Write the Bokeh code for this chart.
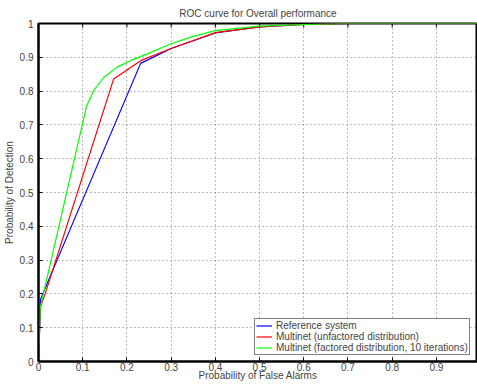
from bokeh.plotting import figure
from bokeh.models import Range1d, FixedTicker, Legend, LegendItem
from bokeh.embed import file_html
from bokeh.resources import INLINE

# ---- data ----
ref_x = [0, 0.005, 0.231, 0.3, 0.4, 0.5, 0.6, 0.7, 0.8, 1.0]
ref_y = [0, 0.186, 0.882, 0.926, 0.972, 0.990, 0.997, 1.0, 1.0, 1.0]

unf_x = [0, 0.004, 0.015, 0.170, 0.231, 0.3, 0.4, 0.5, 0.6, 0.7, 1.0]
unf_y = [0, 0.160, 0.200, 0.836, 0.890, 0.926, 0.973, 0.990, 0.997, 1.0, 1.0]

fac_x = [0, 0.004, 0.109, 0.125, 0.148, 0.178, 0.208, 0.246, 0.3, 0.35, 0.4, 0.5, 0.6, 0.7, 1.0]
fac_y = [0, 0.160, 0.757, 0.802, 0.841, 0.871, 0.890, 0.910, 0.940, 0.962, 0.979, 0.992, 0.997, 1.0, 1.0]

x_ticks = [0, 0.1, 0.2, 0.3, 0.4, 0.5, 0.6, 0.7, 0.8, 0.9]
x_tick_labels = ["0", "0.1", "0.2", "0.3", "0.4", "0.5", "0.6", "0.7", "0.8", "0.9"]
y_ticks = [0, 0.1, 0.2, 0.3, 0.4, 0.5, 0.6, 0.7, 0.8, 0.9, 1.0]
y_tick_labels = ["0", "0.1", "0.2", "0.3", "0.4", "0.5", "0.6", "0.7", "0.8", "0.9", "1"]

series_names = ["Reference system",
                "Multinet (unfactored distribution)",
                "Multinet (factored distribution, 10 iterations)"]
series_colors = ["#0000ff", "#ff0000", "#00ff00"]

FONT = "Liberation Sans"
Y_TOP = 1.0
TOP_TICK_LEN = 0.012

p = figure(width=477, height=385, output_backend="svg", toolbar_location=None,
           x_range=Range1d(0, 0.993), y_range=Range1d(0, Y_TOP),
           min_border_left=38, min_border_right=0, min_border_top=23,
           min_border_bottom=24, x_axis_label="Probability of False Alarms",
           y_axis_label="Probability of Detection",
           title="ROC curve for Overall performance")

p.title.text_font = FONT
p.title.text_font_size = "10px"
p.title.text_font_style = "normal"
p.title.align = "center"
p.title.standoff = 9

p.outline_line_color = "black"
p.outline_line_width = 2
p.background_fill_color = "white"
p.border_fill_color = "white"

for ax in (p.xaxis[0], p.yaxis[0]):
    ax.axis_line_color = "black"
    ax.axis_line_width = 2
    ax.major_tick_in = 4
    ax.major_tick_out = 0
    ax.major_tick_line_color = "black"
    ax.minor_tick_line_color = None
    ax.major_label_text_font = FONT
    ax.major_label_text_font_size = "10px"
    ax.axis_label_text_font = FONT
    ax.axis_label_text_font_size = "10px"
    ax.axis_label_text_font_style = "normal"

p.xaxis[0].ticker = FixedTicker(ticks=x_ticks)
p.xaxis[0].major_label_overrides = dict(zip(x_ticks, x_tick_labels))
p.xaxis[0].major_label_standoff = 1
p.xaxis[0].axis_label_standoff = -4
p.yaxis[0].ticker = FixedTicker(ticks=y_ticks)
p.yaxis[0].major_label_overrides = dict(zip(y_ticks, y_tick_labels))
p.yaxis[0].major_label_standoff = 5
p.yaxis[0].axis_label_standoff = 2

# inward tick marks along the top edge, at the x tick positions
p.segment(x0=x_ticks, y0=[Y_TOP] * len(x_ticks), x1=x_ticks,
          y1=[Y_TOP - TOP_TICK_LEN] * len(x_ticks), line_color="black", line_width=1)

for g in (p.xgrid[0], p.ygrid[0]):
    g.grid_line_color = "#555555"
    g.grid_line_dash = "1 3"
    g.grid_line_width = 1
    g.grid_line_alpha = 0.8
p.xgrid[0].ticker = FixedTicker(ticks=x_ticks)
p.ygrid[0].ticker = FixedTicker(ticks=y_ticks)

items = []
for xs, ys, name, col in zip([ref_x, unf_x, fac_x], [ref_y, unf_y, fac_y],
                             series_names, series_colors):
    r = p.line(xs, ys, line_color=col, line_width=1.2)
    items.append(LegendItem(label=name, renderers=[r]))

legend = Legend(items=items, location=(216, 6))
legend.label_text_font = FONT
legend.label_text_font_size = "10px"
legend.border_line_color = "black"
legend.border_line_width = 1
legend.padding = 1
legend.spacing = -1
legend.margin = 0
legend.glyph_width = 16
legend.glyph_height = 9
legend.label_height = 9
legend.label_standoff = 4
legend.label_text_baseline = "middle"
p.add_layout(legend, "center")

open("out.html", "w").write(file_html(p, INLINE))
